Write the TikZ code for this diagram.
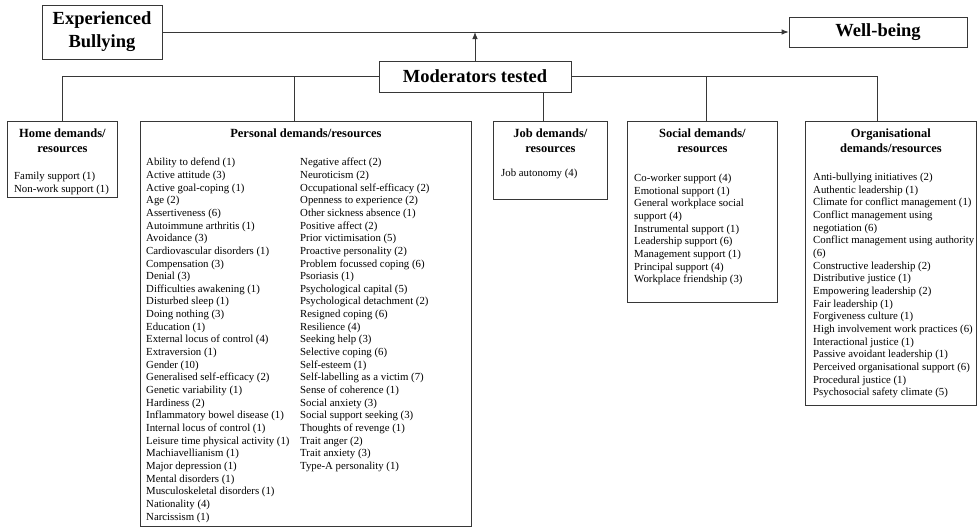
\documentclass[tikz,border=0pt]{standalone}
\usepackage{fontspec}
\setmainfont{Liberation Serif}
\usepackage{tikz}
\usetikzlibrary{arrows.meta, positioning, calc}
\definecolor{framegray}{RGB}{55, 55, 55}
\tikzset{
    bigbox/.style = {rectangle, draw=framegray, line width=0.8pt, fill=white, align=center, inner sep=0pt, font=\fontsize{18.5}{23}\selectfont\bfseries},
    catbox/.style = {rectangle, draw=framegray, line width=0.8pt, fill=white, inner sep=0pt, anchor=north west},
    cattitle/.style = {align=center, inner sep=0pt, anchor=north, font=\fontsize{12.5}{15}\selectfont\bfseries},
    itemlist/.style = {align=left, inner sep=0pt, anchor=north west, font=\fontsize{10.8}{12.65}\selectfont},
    arrow/.style = {line width=0.8pt, draw=framegray, -{Latex[length=7pt, width=5.5pt]}},
    line/.style = {line width=0.8pt, draw=framegray, -}
}

\begin{document}
\begin{tikzpicture}[x=1pt, y=-1pt]
\useasboundingbox (0,0) rectangle (979,530);

% Nodes
\node (bully) [bigbox, minimum width=120pt, minimum height=54pt] at (102,32) {Experienced\\Bullying};
\node (well) [bigbox, minimum width=178pt, minimum height=30pt] at (878,32) {Well-being};
\node (mods) [bigbox, minimum width=192pt, minimum height=31pt] at (475,76.5) {Moderators tested};

\node (home) [catbox, minimum width=110pt, minimum height=76pt] at (7,121) {};
\node (pers) [catbox, minimum width=331pt, minimum height=405pt] at (140,121) {};
\node (job) [catbox, minimum width=114pt, minimum height=78pt] at (493,121) {};
\node (soc) [catbox, minimum width=150pt, minimum height=181pt] at (627,121) {};
\node (org) [catbox, minimum width=171pt, minimum height=284pt] at (805,121) {};

% Titles
\node (hometitle) [cattitle] at ($(home.north)+(0,8)$) {Home demands/\\resources};
\node (perstitle) [cattitle] at ($(pers.north)+(0,8)$) {Personal demands/resources};
\node (jobtitle) [cattitle] at ($(job.north)+(0,8)$) {Job demands/\\resources};
\node (soctitle) [cattitle] at ($(soc.north)+(0,8)$) {Social demands/\\resources};
\node (orgtitle) [cattitle] at ($(org.north)+(0,8)$) {Organisational\\demands/resources};

% Lists
\node (homelist) [itemlist] at ($(home.north west)+(7,51)$) {Family support (1)\\Non-work support (1)};

\node (perslistA) [itemlist] at ($(pers.north west)+(6,37)$) {Ability to defend (1)\\Active attitude (3)\\Active goal-coping (1)\\Age (2)\\Assertiveness (6)\\Autoimmune arthritis (1)\\Avoidance (3)\\Cardiovascular disorders (1)\\Compensation (3)\\Denial (3)\\Difficulties awakening (1)\\Disturbed sleep (1)\\Doing nothing (3)\\Education (1)\\External locus of control (4)\\Extraversion (1)\\Gender (10)\\Generalised self-efficacy (2)\\Genetic variability (1)\\Hardiness (2)\\Inflammatory bowel disease (1)\\Internal locus of control (1)\\Leisure time physical activity (1)\\Machiavellianism (1)\\Major depression (1)\\Mental disorders (1)\\Musculoskeletal disorders (1)\\Nationality (4)\\Narcissism (1)};

\node (perslistB) [itemlist] at ($(pers.north west)+(160,37)$) {Negative affect (2)\\Neuroticism (2)\\Occupational self-efficacy (2)\\Openness to experience (2)\\Other sickness absence (1)\\Positive affect (2)\\Prior victimisation (5)\\Proactive personality (2)\\Problem focussed coping (6)\\Psoriasis (1)\\Psychological capital (5)\\Psychological detachment (2)\\Resigned coping (6)\\Resilience (4)\\Seeking help (3)\\Selective coping (6)\\Self-esteem (1)\\Self-labelling as a victim (7)\\Sense of coherence (1)\\Social anxiety (3)\\Social support seeking (3)\\Thoughts of revenge (1)\\Trait anger (2)\\Trait anxiety (3)\\Type-A personality (1)};

\node (joblist) [itemlist] at ($(job.north west)+(8,48)$) {Job autonomy (4)};

\node (soclist) [itemlist] at ($(soc.north west)+(7,53)$) {Co-worker support (4)\\Emotional support (1)\\General workplace social\\support (4)\\Instrumental support (1)\\Leadership support (6)\\Management support (1)\\Principal support (4)\\Workplace friendship (3)};

\node (orglist) [itemlist] at ($(org.north west)+(8,52)$) {Anti-bullying initiatives (2)\\Authentic leadership (1)\\Climate for conflict management (1)\\Conflict management using\\negotiation (6)\\Conflict management using authority\\(6)\\Constructive leadership (2)\\Distributive justice (1)\\Empowering leadership (2)\\Fair leadership (1)\\Forgiveness culture (1)\\High involvement work practices (6)\\Interactional justice (1)\\Passive avoidant leadership (1)\\Perceived organisational support (6)\\Procedural justice (1)\\Psychosocial safety climate (5)};

% Arrows
\draw [arrow] (bully) -- (well);
\draw [arrow] (mods) -- (mods |- bully.east);

\draw [line] (home.north) |- (mods.west);
\draw [line] ([xshift=-11.5pt]pers.north) |- (mods.west);
\draw [line] ([xshift=-7pt]job.north) -- ([xshift=-7pt]job.north |- mods.south);
\draw [line] ([xshift=4pt]soc.north) |- (mods.east);
\draw [line] ([xshift=-13.5pt]org.north) |- (mods.east);

\end{tikzpicture}
\end{document}
